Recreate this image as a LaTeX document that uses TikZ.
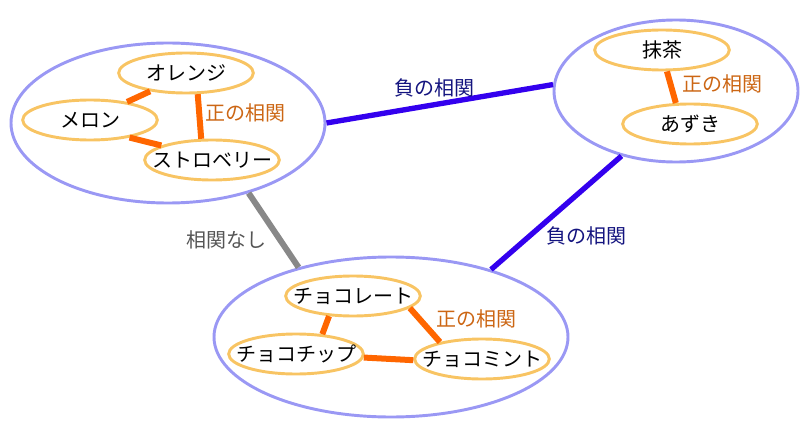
\documentclass[tikz,border=0pt]{standalone}
\usepackage{fontspec}
\setmainfont{Noto Sans CJK JP}
\usetikzlibrary{shapes.geometric}
\definecolor{groupline}{HTML}{9A98F4}
\definecolor{itemline}{HTML}{F8C463}
\definecolor{poscol}{HTML}{FF6600}
\definecolor{negcol}{HTML}{3300EE}
\definecolor{nocol}{HTML}{888888}
\definecolor{postext}{HTML}{CC6614}
\definecolor{negtext}{HTML}{14147F}
\definecolor{notext}{HTML}{555555}
\newcommand{\itemtext}[1]{\makebox[0pt]{#1}}
\tikzset{
  groupbox/.style={ellipse, draw=groupline, line width=2.2pt, inner sep=0pt},
  itembox/.style={ellipse, draw=itemline, line width=2.2pt, inner sep=0pt,
    minimum width=101pt, minimum height=30pt,
    font=\fontsize{15}{17}\selectfont},
  poslink/.style={draw=poscol, line width=4.5pt},
  neglink/.style={draw=negcol, line width=4pt},
  nolink/.style={draw=nocol, line width=4.5pt},
  lbl/.style={font=\fontsize{15}{17}\selectfont, inner sep=0pt},
}
\begin{document}
\begin{tikzpicture}[x=0.75pt, y=0.75pt]
\useasboundingbox (0,0) rectangle (809,-431);

% groups
\node[groupbox, minimum width=235.5pt, minimum height=120pt] (fruit) at (168,-123) {};
\node[groupbox, minimum width=183pt, minimum height=106.5pt] (jp) at (676,-91) {};
\node[groupbox, minimum width=265.5pt, minimum height=120pt] (choco) at (391,-337) {};

% items
\node[itembox] (orange) at (186,-73) {\itemtext{オレンジ}};
\node[itembox] (melon) at (90,-120) {\itemtext{メロン}};
\node[itembox] (straw) at (212,-160) {\itemtext{ストロベリー}};
\node[itembox] (matcha) at (662,-50) {\itemtext{抹茶}};
\node[itembox] (azuki) at (690,-124) {\itemtext{あずき}};
\node[itembox] (cbar) at (353,-296) {\itemtext{チョコレート}};
\node[itembox] (cchip) at (296,-354) {\itemtext{チョコチップ}};
\node[itembox] (cmint) at (482,-359) {\itemtext{チョコミント}};

% links inside groups
\draw[poslink] (orange.-153) -- (melon.26);
\draw[poslink] (melon.-24) -- (straw.164);
\draw[poslink] (orange.-61) -- (straw.117);
\draw[poslink] (matcha.-77) -- (azuki.124);
\draw[poslink] (cbar.-140) -- (cchip.37);
\draw[poslink] (cbar.-12) -- (cmint.158);
\draw[poslink] (cchip.-3) -- (cmint.181);

% links between groups
\draw[neglink] (fruit.0) -- (jp.177);
\draw[neglink] (jp.-130) -- (choco.34);
\draw[nolink] (fruit.-41) -- (choco.143);

% labels
\node[lbl, text=postext] (l1) at (245,-113) {正の相関};
\node[lbl, text=postext] (l2) at (722,-84) {正の相関};
\node[lbl, text=postext] (l3) at (476,-319) {正の相関};
\node[lbl, text=negtext] (l4) at (434,-88) {負の相関};
\node[lbl, text=negtext] (l5) at (586,-236) {負の相関};
\node[lbl, text=notext] (l6) at (226,-240) {相関なし};
\end{tikzpicture}
\end{document}
